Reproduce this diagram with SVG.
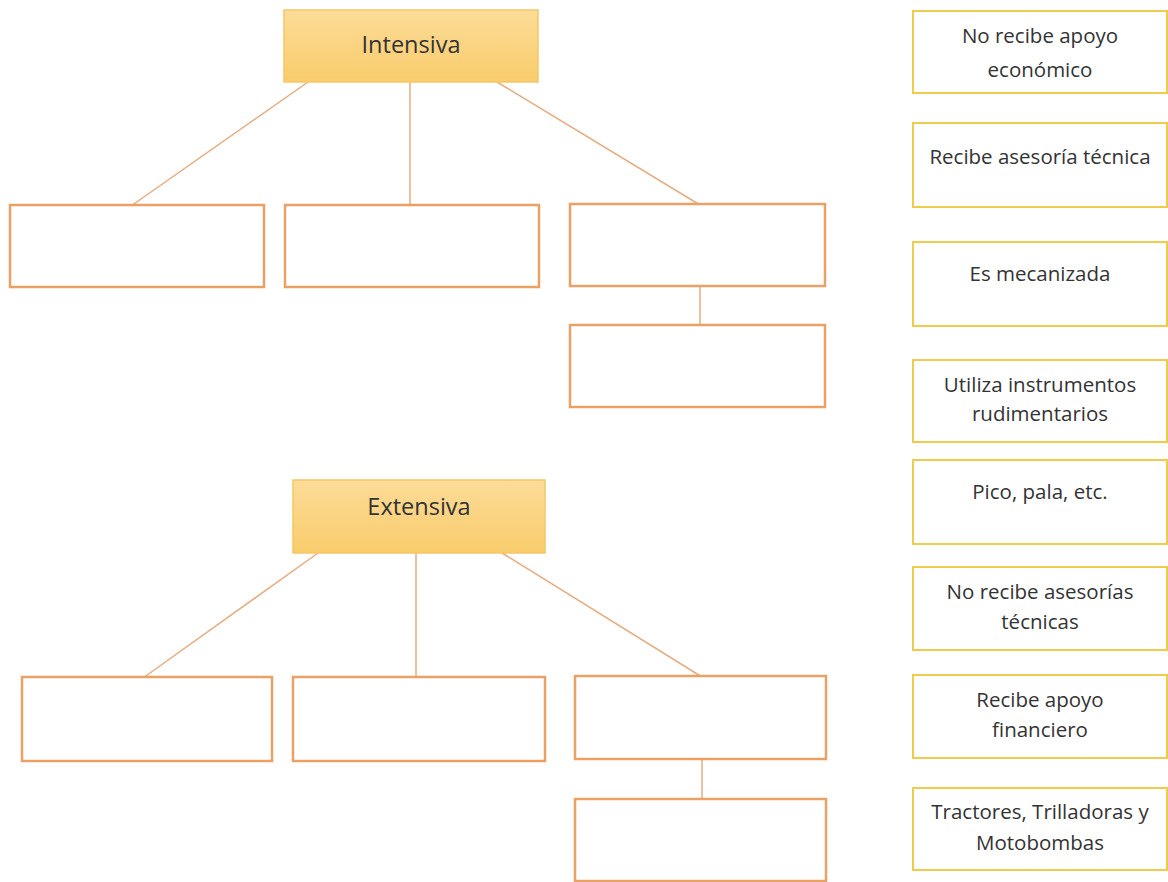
<svg xmlns="http://www.w3.org/2000/svg" width="1168" height="882" viewBox="0 0 1168 882">
<defs>
<linearGradient id="hdr" x1="0" y1="0" x2="0" y2="1">
<stop offset="0" stop-color="#FCDC98"/>
<stop offset="1" stop-color="#F9CC6C"/>
</linearGradient>
</defs>
<style>
.hdr{fill:url(#hdr);stroke:#F3C866;stroke-width:1.5}
.blank{fill:#fff;stroke:#E9A166;stroke-width:2.5}
.opt{fill:#fff;stroke:#EFCB4E;stroke-width:2}
.conn{stroke:#E6AC80;stroke-width:1.5;fill:none}
.ht{font-family:"Open Sans","Liberation Sans",sans-serif;font-size:23.5px;fill:#333;text-anchor:middle}
.ot{font-family:"Open Sans","Liberation Sans",sans-serif;font-size:20.5px;fill:#333;text-anchor:middle}
</style>
<rect width="1168" height="882" fill="#fff"/>
<g id="connectors">
<line class="conn" x1="308" y1="82" x2="131" y2="206"/>
<line class="conn" x1="410" y1="82" x2="410" y2="206"/>
<line class="conn" x1="497" y1="82" x2="700" y2="205"/>
<line class="conn" x1="700" y1="286" x2="700" y2="330"/>
<line class="conn" x1="318" y1="553" x2="143" y2="678"/>
<line class="conn" x1="416" y1="553" x2="416" y2="678"/>
<line class="conn" x1="502" y1="553" x2="702" y2="677"/>
<line class="conn" x1="702" y1="759" x2="702" y2="805"/>
</g>
<g id="intensiva"><rect class="hdr" x="284" y="10" width="254" height="72"/><text class="ht" x="411" y="53">Intensiva</text></g>
<g id="i1"><rect class="blank" x="10" y="205" width="254" height="82"/></g>
<g id="i2"><rect class="blank" x="285" y="205" width="254" height="82"/></g>
<g id="i3"><rect class="blank" x="570" y="204" width="255" height="82"/></g>
<g id="i4"><rect class="blank" x="570" y="325" width="255" height="82"/></g>
<g id="extensiva"><rect class="hdr" x="293" y="480" width="252" height="73"/><text class="ht" x="419" y="515">Extensiva</text></g>
<g id="e1"><rect class="blank" x="22" y="677" width="250" height="84"/></g>
<g id="e2"><rect class="blank" x="293" y="677" width="252" height="84"/></g>
<g id="e3"><rect class="blank" x="575" y="676" width="251" height="83"/></g>
<g id="e4"><rect class="blank" x="575" y="799" width="251" height="82"/></g>
<g id="o1"><rect class="opt" x="913" y="11" width="254" height="82"/><text class="ot" x="1040" y="43">No recibe apoyo</text><text class="ot" x="1040" y="77">económico</text></g>
<g id="o2"><rect class="opt" x="913" y="123" width="254" height="84"/><text class="ot" x="1040" y="164">Recibe asesoría técnica</text></g>
<g id="o3"><rect class="opt" x="913" y="242" width="254" height="84"/><text class="ot" x="1040" y="281">Es mecanizada</text></g>
<g id="o4"><rect class="opt" x="913" y="360" width="254" height="82"/><text class="ot" x="1040" y="392">Utiliza instrumentos</text><text class="ot" x="1040" y="421">rudimentarios</text></g>
<g id="o5"><rect class="opt" x="913" y="460" width="254" height="84"/><text class="ot" x="1040" y="499">Pico, pala, etc.</text></g>
<g id="o6"><rect class="opt" x="913" y="567" width="254" height="83"/><text class="ot" x="1040" y="599">No recibe asesorías</text><text class="ot" x="1040" y="629">técnicas</text></g>
<g id="o7"><rect class="opt" x="913" y="675" width="254" height="83"/><text class="ot" x="1040" y="707">Recibe apoyo</text><text class="ot" x="1040" y="737">financiero</text></g>
<g id="o8"><rect class="opt" x="913" y="788" width="254" height="82"/><text class="ot" x="1040" y="819">Tractores, Trilladoras y</text><text class="ot" x="1040" y="850">Motobombas</text></g>
</svg>
